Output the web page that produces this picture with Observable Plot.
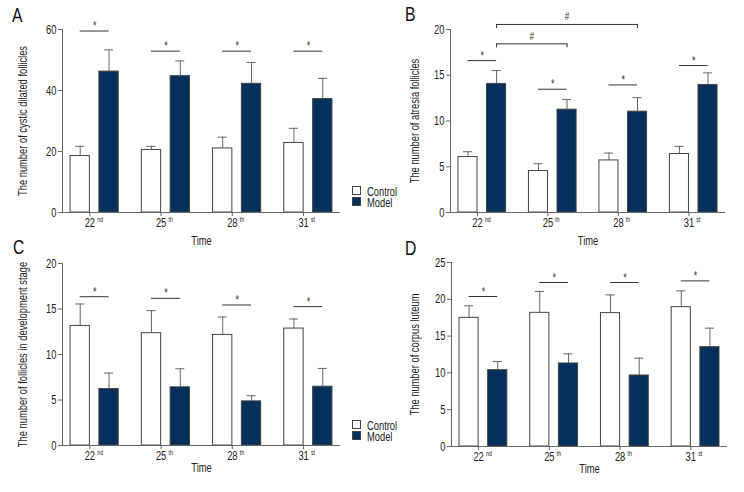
<!DOCTYPE html>
<html>
<head>
<meta charset="utf-8">
<script src="https://cdn.jsdelivr.net/npm/d3@7"></script>
<script src="https://cdn.jsdelivr.net/npm/@observablehq/plot@0.6"></script>
<style>
  html, body { margin: 0; padding: 0; background: #fff; }
  #fig { position: relative; width: 744px; height: 492px; overflow: hidden;
         font-family: "Liberation Sans", Arial, sans-serif; color: #222; }
  .panel { position: absolute; width: 372px; height: 246px; }
  .panel svg { overflow: visible; }
  .letter { position: absolute; font-size: 21px; line-height: 21px; color: #111; transform-origin: left top; }
  .legend { position: absolute; overflow: visible; }
</style>
</head>
<body>
<div id="fig"></div>
<script>
// ---------- data ----------
const times = ["22nd", "25th", "28th", "31st"];
const groups = ["Control", "Model"];

// Panel A: cystic dilated follicles
const aControl   = [18.5, 20.5, 21.0, 22.8];
const aControlSD = [3.2, 1.2, 3.7, 4.8];
const aModel     = [46.2, 44.7, 42.2, 37.2];
const aModelSD   = [7.1, 5.0, 7.0, 6.8];
const aStar      = [59.5, 52.9, 52.9, 52.9];
const aTicks     = [0, 20, 40, 60];

// Panel B: atresia follicles
const bControl   = [6.06, 4.53, 5.69, 6.39];
const bControlSD = [0.58, 0.80, 0.81, 0.84];
const bModel     = [14.05, 11.24, 11.02, 13.94];
const bModelSD   = [1.46, 1.10, 1.53, 1.32];
const bStar      = [16.6, 13.47, 13.94, 16.06];
const bTicks     = [0, 5, 10, 15, 20];
const bHashFrom  = ["22nd", "22nd"];
const bHashTo    = ["25th", "28th"];
const bHashY     = [18.43, 20.55];

// Panel C: follicles in development stage
const cControl   = [13.14, 12.34, 12.15, 12.85];
const cControlSD = [2.41, 2.48, 1.97, 1.05];
const cModel     = [6.20, 6.39, 4.85, 6.46];
const cModelSD   = [1.76, 2.04, 0.62, 2.01];
const cStar      = [16.35, 16.17, 15.44, 15.26];
const cTicks     = [0, 5, 10, 15, 20];

// Panel D: corpus luteum
const dControl   = [17.48, 18.16, 18.12, 18.93];
const dControlSD = [1.63, 2.90, 2.48, 2.22];
const dModel     = [10.37, 11.28, 9.65, 13.50];
const dModelSD   = [1.18, 1.31, 2.35, 2.58];
const dStar      = [20.38, 22.28, 22.28, 22.5];
const dTicks     = [0, 5, 10, 15, 20, 25];

// ---------- style ----------
const FONT = '"Liberation Sans", Arial, sans-serif';
const FS = 12.5;
const NAVY = "#04305c";
const AX = "#666";
const BAR_STROKE = "#444";
const ERR = "#666";
const SIG = "#333";
const PI = 0.324, PO = 0.113, GAP = 9.5, CAP = 9;
const W = 372, H = 246;
const SVGNS = "http://www.w3.org/2000/svg";

const fig = document.getElementById("fig");

// horizontal condensing factor (narrow-typeface look), calibrated in SVG
const probe = document.createElementNS(SVGNS, "svg");
probe.setAttribute("width", 10); probe.setAttribute("height", 10);
probe.style.position = "absolute"; probe.style.left = "-999px";
const pt = document.createElementNS(SVGNS, "text");
pt.setAttribute("font-family", FONT); pt.setAttribute("font-size", FS);
pt.textContent = "The number of cystic dilated follicles";
probe.appendChild(pt); document.body.appendChild(probe);
const COND = Math.min(1, 150 / pt.getComputedTextLength());
probe.remove();

function condense(svg) {
  svg.querySelectorAll("text").forEach(t => {
    const len = t.getComputedTextLength();
    if (len > 0) {
      t.setAttribute("textLength", (len * COND).toFixed(2));
      t.setAttribute("lengthAdjust", "spacingAndGlyphs");
    }
  });
}

function panel(cfg) {
  const n = times.length;
  const step = (W - cfg.ml - cfg.mr) / (n - PI + 2 * PO);
  const bw = step * (1 - PI);
  const barW = (bw - GAP) / 2;
  const off = (bw - barW) / 2;
  const pxPerUnit = (H - cfg.mt - cfg.mb) / (cfg.ticks[cfg.ticks.length - 1] - cfg.ticks[0]);

  const ctrl = times.map((t, i) => ({time: t, group: groups[0], value: cfg.control[i], top: cfg.control[i] + cfg.controlSD[i]}));
  const mod  = times.map((t, i) => ({time: t, group: groups[1], value: cfg.model[i], top: cfg.model[i] + cfg.modelSD[i]}));
  const sig  = times.map((t, i) => ({time: t, y: cfg.star[i]}));
  const br   = (cfg.bracketFrom || []).map((f, i) => ({from: f, to: cfg.bracketTo[i], y: cfg.bracketY[i], label: "#"}));
  const drop = 4 / pxPerUnit;

  const marks = [
    Plot.ruleX(ctrl, {x: "time", y1: "value", y2: "top", dx: -off, stroke: ERR}),
    Plot.ruleX(mod,  {x: "time", y1: "value", y2: "top", dx: off, stroke: ERR}),
    Plot.tickY(ctrl, {x: "time", y: "top", insetLeft: barW / 2 - CAP / 2, insetRight: bw - barW / 2 - CAP / 2, stroke: ERR}),
    Plot.tickY(mod,  {x: "time", y: "top", insetLeft: bw - barW / 2 - CAP / 2, insetRight: barW / 2 - CAP / 2, stroke: ERR}),
    Plot.barY(ctrl, {x: "time", y: "value", fill: "#fff", stroke: BAR_STROKE, strokeWidth: 1, insetRight: barW + GAP}),
    Plot.barY(mod,  {x: "time", y: "value", fill: NAVY, stroke: BAR_STROKE, strokeWidth: 1, insetLeft: barW + GAP}),
    Plot.tickY(sig, {x: "time", y: "y", insetLeft: barW / 2, insetRight: barW / 2, stroke: SIG}),
    Plot.text(sig, {x: "time", y: "y", text: () => "*", lineAnchor: "bottom", dy: -1, fontSize: 12, fill: SIG}),
    Plot.link(br, {x1: "from", x2: "to", y1: "y", y2: "y", dx: off, stroke: SIG}),
    Plot.ruleX(br, {x: "from", y1: d => d.y - drop, y2: "y", dx: off, stroke: SIG}),
    Plot.ruleX(br, {x: "to", y1: d => d.y - drop, y2: "y", dx: off, stroke: SIG}),
    ...br.map(d => Plot.text([d], {
      x: "from", y: "y", text: "label", lineAnchor: "bottom", dy: -4, fontSize: 11, fill: SIG,
      dx: off + step * (times.indexOf(d.to) - times.indexOf(d.from)) / 2
    })),
    Plot.ruleY([0], {stroke: AX}),
    Plot.frame({anchor: "left", stroke: AX}),
    Plot.axisY({ticks: cfg.ticks, tickSize: 4, tickPadding: 2, stroke: AX, fontSize: FS, label: cfg.title,
                labelAnchor: "center", labelOffset: cfg.yLabelOffset, labelArrow: "none"}),
    // ordinal tick labels: number part via the axis, suffix as superscript text
    Plot.axisX({tickSize: 4, tickPadding: 2, stroke: AX, fontSize: FS, dx: -4.8,
                tickFormat: d => d.replace(/[a-z]+$/, ""),
                label: "Time", labelAnchor: "center", labelOffset: cfg.xLabelOffset, labelArrow: "none"}),
    Plot.text(times, {x: d => d, text: d => d.replace(/^\d+/, ""), frameAnchor: "bottom",
                      textAnchor: "start", lineAnchor: "top", dx: 2.6, dy: 5, fontSize: 7, fill: "#222"})
  ];

  const chart = Plot.plot({
    width: W, height: H,
    marginLeft: cfg.ml, marginRight: cfg.mr, marginTop: cfg.mt, marginBottom: cfg.mb,
    style: {fontFamily: FONT, fontSize: FS + "px", color: "#222", background: "transparent", overflow: "visible"},
    x: {domain: times, paddingInner: PI, paddingOuter: PO, round: false},
    y: {domain: [cfg.ticks[0], cfg.ticks[cfg.ticks.length - 1]], nice: false},
    marks
  });

  const div = document.createElement("div");
  div.className = "panel";
  div.style.left = cfg.left + "px";
  div.style.top = cfg.top + "px";
  div.appendChild(chart);
  fig.appendChild(div);
  condense(chart);
}

panel({left: 0, top: 0, ml: 62, mr: 32, mt: 29, mb: 34, yLabelOffset: 44, xLabelOffset: 32,
       control: aControl, controlSD: aControlSD, model: aModel, modelSD: aModelSD, star: aStar, ticks: aTicks,
       title: "The number of cystic dilated follicles"});
panel({left: 372, top: 0, ml: 78, mr: 19, mt: 29, mb: 34, yLabelOffset: 40, xLabelOffset: 32,
       control: bControl, controlSD: bControlSD, model: bModel, modelSD: bModelSD, star: bStar, ticks: bTicks,
       bracketFrom: bHashFrom, bracketTo: bHashTo, bracketY: bHashY,
       title: "The number of atresia follicles"});
panel({left: 0, top: 246, ml: 62, mr: 32, mt: 17, mb: 47, yLabelOffset: 44, xLabelOffset: 26,
       control: cControl, controlSD: cControlSD, model: cModel, modelSD: cModelSD, star: cStar, ticks: cTicks,
       title: "The number of follicles in development stage"});
panel({left: 372, top: 246, ml: 79, mr: 17, mt: 16, mb: 46, yLabelOffset: 41, xLabelOffset: 26,
       control: dControl, controlSD: dControlSD, model: dModel, modelSD: dModelSD, star: dStar, ticks: dTicks,
       title: "The number of corpus luteum"});

// panel letters
[["A", 12, 4], ["B", 405, 3], ["C", 13, 236], ["D", 405, 237]].forEach(([txt, x, y]) => {
  const el = document.createElement("div");
  el.className = "letter";
  el.style.left = x + "px"; el.style.top = y + "px";
  el.style.transform = `scaleX(${COND})`;
  el.textContent = txt;
  fig.appendChild(el);
});

// legends (small SVGs)
[[352, 186], [352, 420]].forEach(([x, y]) => {
  const svg = d3.create("svg")
    .attr("class", "legend")
    .attr("width", 50).attr("height", 22)
    .style("left", x + "px").style("top", y + "px")
    .attr("font-family", FONT).attr("font-size", 12.5);
  const it = svg.selectAll("g").data(groups).join("g")
    .attr("transform", (d, i) => `translate(0,${i * 11})`);
  it.append("rect").attr("x", 0.5).attr("y", 0.5).attr("width", 8).attr("height", 8)
    .attr("fill", (d, i) => i === 0 ? "#fff" : NAVY).attr("stroke", "#444");
  it.append("text").attr("x", 15).attr("y", 9.5).attr("fill", "#222").text(d => d);
  fig.appendChild(svg.node());
  condense(svg.node());
});
</script>
</body>
</html>
